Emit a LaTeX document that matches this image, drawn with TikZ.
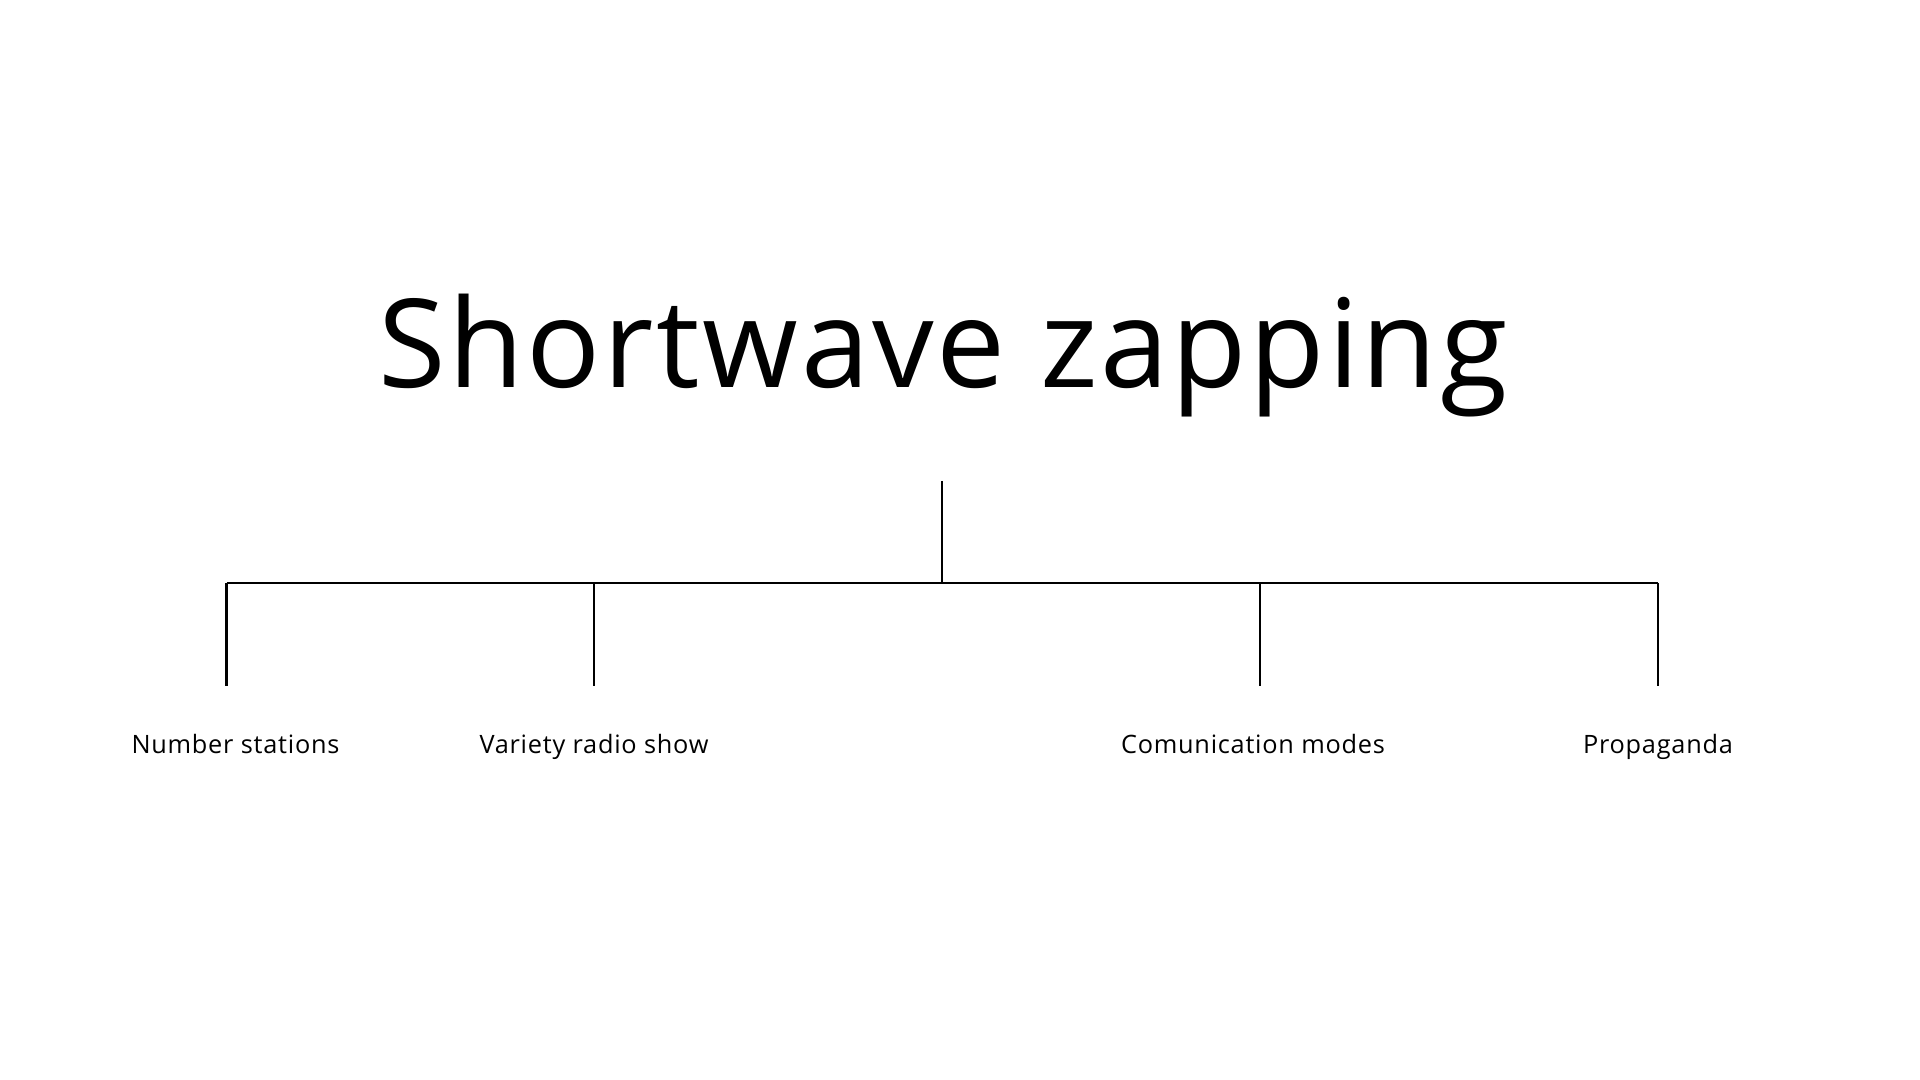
\documentclass[tikz,border=0pt]{standalone}
\usepackage{fontspec}
\setmainfont{Open Sans}
\usepackage{tikz}
\usetikzlibrary{positioning}

\begin{document}
\begin{tikzpicture}[
 title/.style={anchor=base,inner sep=0pt,font=\fontsize{35}{40}\selectfont\addfontfeatures{LetterSpace=2.2}},
 topic/.style={anchor=base,inner sep=0pt,font=\fontsize{7.2}{8}\selectfont\addfontfeatures{LetterSpace=3}},
 link/.style={draw=black,line width=0.7pt}]
\useasboundingbox (0,0) rectangle (19.2,10.8);
\node[title] (sw) at (9.43,6.92) {Shortwave zapping};
\coordinate (stem) at (9.42,5.99);
\coordinate (hub) at (9.42,4.97);
\coordinate (j1) at (2.265,4.97);
\coordinate (j2) at (5.94,4.97);
\coordinate (j3) at (12.60,4.97);
\coordinate (j4) at (16.58,4.97);
\coordinate (e1) at (2.265,3.94);
\coordinate (e2) at (5.94,3.94);
\coordinate (e3) at (12.60,3.94);
\coordinate (e4) at (16.58,3.94);
\node[topic] (num) at (2.355,3.26) {Number stations};
\node[topic] (var) at (5.94,3.26) {Variety radio show};
\node[topic] (com) at (12.53,3.26) {Comunication modes};
\node[topic] (pro) at (16.58,3.26) {Propaganda};
\draw[link] (stem) -- (hub);
\draw[link] (j1) -- (j4);
\draw[link] (j1) -- (e1);
\draw[link] (j2) -- (e2);
\draw[link] (j3) -- (e3);
\draw[link] (j4) -- (e4);
\end{tikzpicture}
\end{document}
